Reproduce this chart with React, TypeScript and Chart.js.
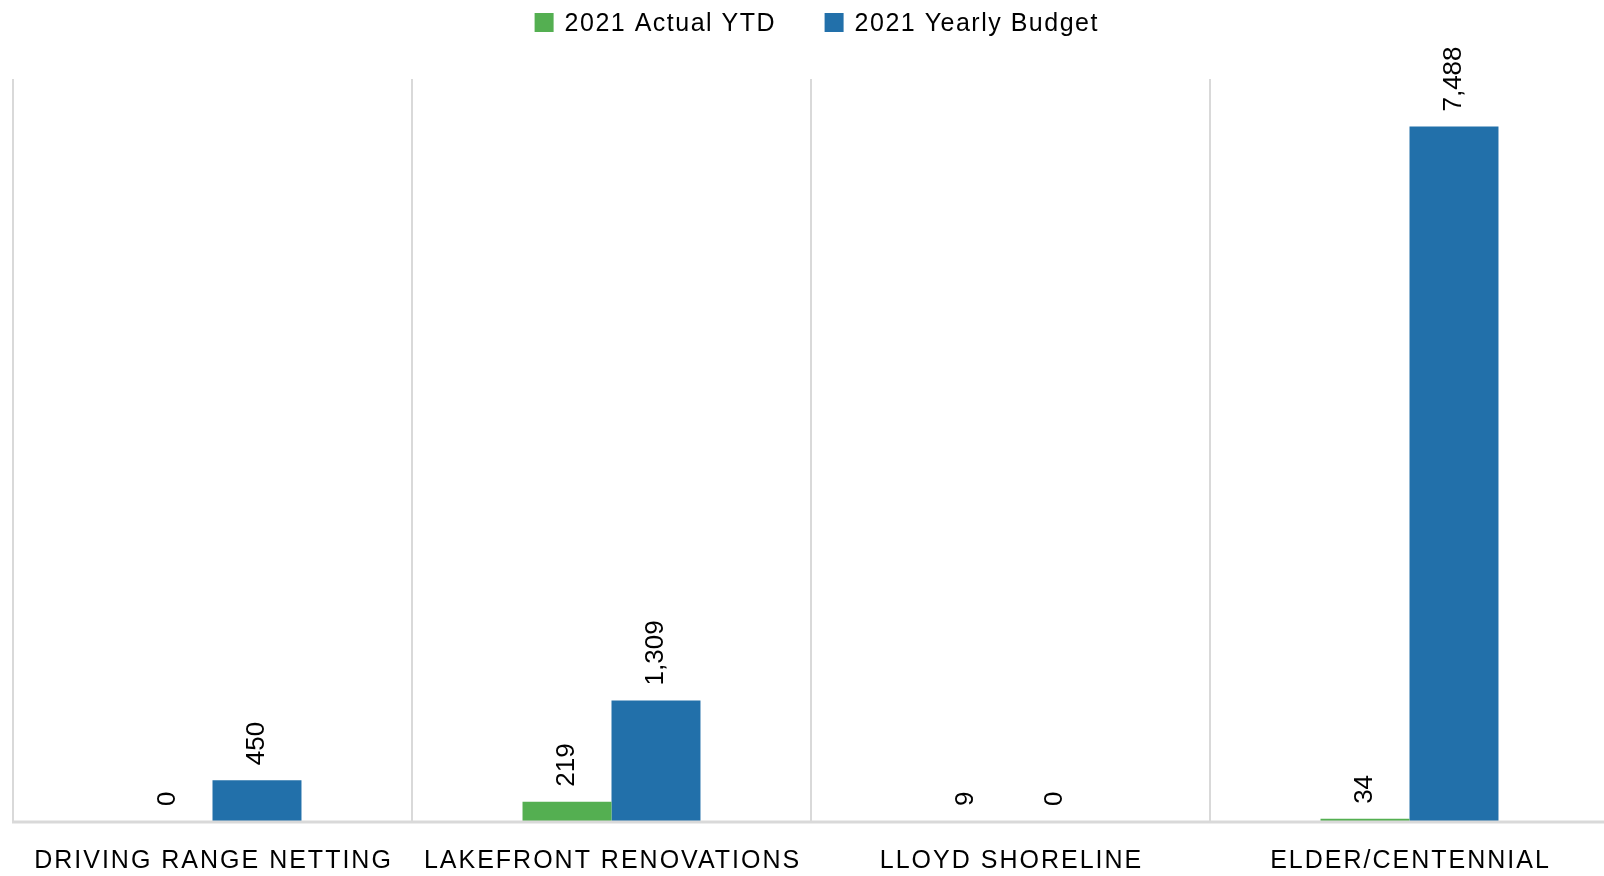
import React, { useEffect, useRef } from "react";
import { Chart, registerables } from "chart.js";

Chart.register(...registerables);

const categories = [
  "DRIVING RANGE NETTING",
  "LAKEFRONT RENOVATIONS",
  "LLOYD SHORELINE",
  "ELDER/CENTENNIAL",
];
const actualYTD = [0, 219, 9, 34];
const yearlyBudget = [450, 1309, 0, 7488];
const seriesNames = ["2021 Actual YTD", "2021 Yearly Budget"];
const seriesColors = ["#54AF51", "#2270AA"];

const FONT = "'Liberation Sans', Arial, sans-serif";

const labelsPlugin = {
  id: "customText",
  afterDatasetsDraw(chart: any) {
    const ctx = chart.ctx;
    const area = chart.chartArea;
    // category axis line drawn over bar bases
    ctx.save();
    ctx.strokeStyle = "#d9d9d9";
    ctx.lineWidth = 3;
    ctx.beginPath();
    ctx.moveTo(area.left - 1, area.bottom);
    ctx.lineTo(chart.width, area.bottom);
    ctx.stroke();
    ctx.restore();
  },
  afterDraw(chart: any) {
    const ctx = chart.ctx;
    // data labels
    ctx.save();
    ctx.font = `26px ${FONT}`;
    ctx.fillStyle = "#000";
    ctx.textAlign = "left";
    ctx.textBaseline = "middle";
    chart.data.datasets.forEach((ds: any, di: number) => {
      const meta = chart.getDatasetMeta(di);
      meta.data.forEach((bar: any, i: number) => {
        const v = ds.data[i];
        const txt = Number(v).toLocaleString("en-US");
        ctx.save();
        ctx.translate(bar.x, Math.min(bar.y, chart.chartArea.bottom - 1) - 15);
        ctx.rotate(-Math.PI / 2);
        ctx.fillText(txt, 0, 0);
        ctx.restore();
      });
    });
    ctx.restore();

    // category labels
    const xs = chart.scales.x;
    ctx.save();
    ctx.font = `25px ${FONT}`;
    (ctx as any).letterSpacing = "2px";
    ctx.fillStyle = "#000";
    ctx.textAlign = "left";
    ctx.textBaseline = "alphabetic";
    categories.forEach((c, i) => {
      const cx = xs.getPixelForValue(i);
      const w = ctx.measureText(c).width - 2;
      ctx.fillText(c, cx - w / 2, 868);
    });
    ctx.restore();

    // legend
    ctx.save();
    ctx.font = `25px ${FONT}`;
    (ctx as any).letterSpacing = "1.5px";
    ctx.textBaseline = "alphabetic";
    const box = 19;
    const gap = 11;
    const itemGap = 50;
    const widths = seriesNames.map((n) => ctx.measureText(n).width - 1.5);
    const total =
      widths.reduce((a, w) => a + box + gap + w, 0) + itemGap * (seriesNames.length - 1);
    let x = 816 - total / 2;
    seriesNames.forEach((n, i) => {
      ctx.fillStyle = seriesColors[i];
      ctx.fillRect(x, 13, box, box);
      ctx.fillStyle = "#000";
      ctx.fillText(n, x + box + gap, 31);
      x += box + gap + widths[i] + itemGap;
    });
    ctx.restore();
  },
};

export default function App() {
  const ref = useRef<HTMLCanvasElement | null>(null);
  useEffect(() => {
    if (!ref.current) return;
    const chart = new Chart(ref.current, {
      type: "bar",
      data: {
        labels: categories,
        datasets: [
          {
            label: seriesNames[0],
            data: actualYTD,
            backgroundColor: seriesColors[0],
            borderWidth: 0,
            categoryPercentage: 0.446,
            barPercentage: 1,
          },
          {
            label: seriesNames[1],
            data: yearlyBudget,
            backgroundColor: seriesColors[1],
            borderWidth: 0,
            categoryPercentage: 0.446,
            barPercentage: 1,
          },
        ],
      },
      options: {
        animation: false,
        responsive: true,
        maintainAspectRatio: false,
        layout: { padding: { left: 13, right: 3, top: 79, bottom: 54 } },
        plugins: {
          legend: { display: false },
          tooltip: { enabled: false },
        },
        scales: {
          x: {
            offset: true,
            grid: {
              display: true,
              offset: true,
              color: "#d9d9d9",
              lineWidth: 2,
              drawTicks: false,
            },
            border: { display: false },
            ticks: { display: false },
          },
          y: {
            display: false,
            min: 0,
            max: 8000,
          },
        },
      },
      plugins: [labelsPlugin],
    });
    return () => chart.destroy();
  }, []);
  return (
    <div
      style={{
        position: "fixed",
        left: 0,
        top: 0,
        width: 1604,
        height: 876,
        overflow: "hidden",
        background: "#fff",
      }}
    >
      <div style={{ position: "relative", width: 1612, height: 876 }}>
        <canvas ref={ref} />
      </div>
    </div>
  );
}
